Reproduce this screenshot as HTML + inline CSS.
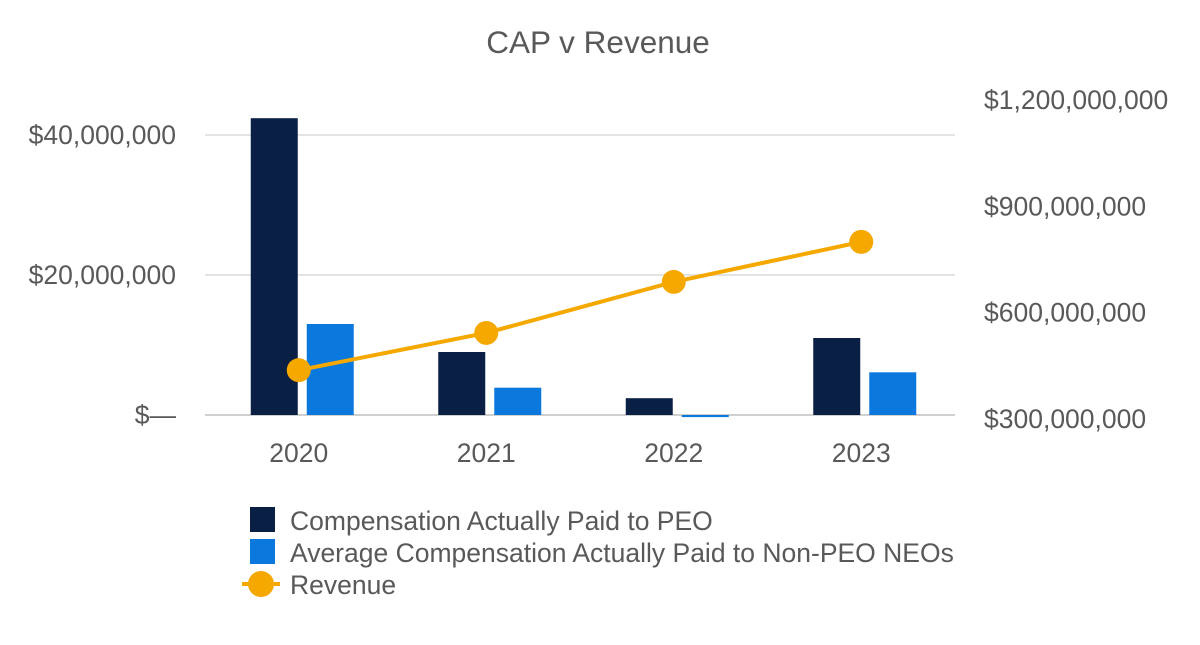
<!DOCTYPE html>
<html><head><meta charset="utf-8"><style>
body{margin:0;background:#fff;}
svg text{font-family:"Liberation Sans",Arial,sans-serif;fill:#595959;}
</style></head><body>
<svg id="chart" width="1200" height="640">
<text x="598" y="53" font-size="31.5" text-anchor="middle">CAP v Revenue</text>
<g id="grid"></g><g id="bars"></g><g id="line"></g><g id="axes"></g>
<g>
<rect x="250" y="507" width="25" height="25" fill="#0a1f44"/>
<text x="290" y="530" font-size="26.5">Compensation Actually Paid to PEO</text>
<rect x="250" y="539" width="25" height="25" fill="#0a78dc"/>
<text x="290" y="562" font-size="26.5">Average Compensation Actually Paid to Non-PEO NEOs</text>
<line x1="242" y1="584" x2="280" y2="584" stroke="#f5a800" stroke-width="4"/>
<circle cx="261" cy="584" r="13" fill="#f5a800"/>
<text x="290" y="594" font-size="26.5">Revenue</text>
</g>
</svg>
<script>
const categories=["2020","2021","2022","2023"];
const peo=[42.4,9.0,2.4,11.0];
const neo=[13.0,3.9,-0.3,6.1];
const revenue=[435,540,684,797];
const leftTicks=[0,20,40];
const leftLabels=["$\u2014","$20,000,000","$40,000,000"];
const rightTicks=[300,600,900,1200];
const rightLabels=["$300,000,000","$600,000,000","$900,000,000","$1,200,000,000"];
const NS="http://www.w3.org/2000/svg";
const x0=205,x1=955,step=(x1-x0)/categories.length;
const yL=v=>415-v*7;
const yR=v=>418-(v-300)*0.3544;
const xc=i=>x0+step*(i+0.5);
function mk(tag,attrs,parent,txt){const e=document.createElementNS(NS,tag);for(const k in attrs)e.setAttribute(k,attrs[k]);if(txt!=null)e.textContent=txt;document.getElementById(parent).appendChild(e);return e;}
leftTicks.forEach((t,i)=>{
 const g=mk("line",{x1:x0,x2:x1,y1:yL(t),y2:yL(t),stroke:i==0?"#d0d0d0":"#e3e3e3","stroke-width":2},"grid");
 
 
 const l=mk("text",{x:176,y:yL(t)+9,"font-size":26.5,"text-anchor":"end"},"axes",leftLabels[i]);
 
 
});
rightTicks.forEach((t,i)=>{
 const l=mk("text",{x:984,y:yR(t)+10,"font-size":26.5},"axes",rightLabels[i]);
 
 
});
categories.forEach((c,i)=>{
 const l=mk("text",{x:xc(i),y:462,"font-size":26.5,"text-anchor":"middle"},"axes",c);
 
 
 const b1=mk("rect",{x:xc(i)-48,width:47,y:Math.min(yL(peo[i]),yL(0)),height:Math.abs(yL(peo[i])-yL(0)),fill:"#0a1f44"},"bars");
 
 
 const b2=mk("rect",{x:xc(i)+8,width:47,y:Math.min(yL(neo[i]),yL(0)),height:Math.max(2,Math.abs(yL(neo[i])-yL(0))),fill:"#0a78dc"},"bars");
 
 
});
const pl=mk("polyline",{points:revenue.map((v,i)=>xc(i)+","+yR(v)).join(" "),fill:"none",stroke:"#f5a800","stroke-width":4},"line");


revenue.forEach((v,i)=>{
 const p=mk("circle",{cx:xc(i),cy:yR(v),r:12,fill:"#f5a800"},"line");
 
 
});
</script>
</body></html>
